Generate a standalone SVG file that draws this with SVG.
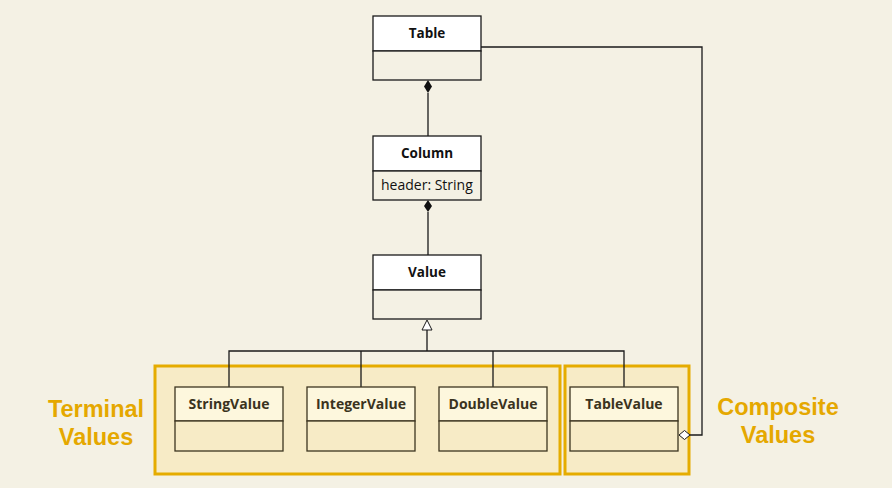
<svg xmlns="http://www.w3.org/2000/svg" width="892" height="488" viewBox="0 0 892 488">
<defs>
<style>
.cls{fill:#ffffff;stroke:#1a1a1a;stroke-width:1.3}
.sec{fill:#f4f1e4;stroke:#1a1a1a;stroke-width:1.3}
.sub{fill:#fdf7dd;stroke:#3d3520;stroke-width:1.3}
.subb{fill:#f7ebc6;stroke:#3d3520;stroke-width:1.3}
.grp{fill:#f7ebc6;stroke:#e5ac00;stroke-width:3}
.name{font-family:"Open Sans","DejaVu Sans",sans-serif;font-weight:bold;font-size:13.5px;fill:#111;text-anchor:middle}
.sname{font-family:"Open Sans","DejaVu Sans",sans-serif;font-weight:bold;font-size:14px;fill:#3a3320;text-anchor:middle}
.attr{font-family:"Open Sans","DejaVu Sans",sans-serif;font-size:14px;fill:#111}
.lbl{font-family:"Liberation Sans",Arial,sans-serif;font-weight:bold;font-size:23.5px;fill:#e5a800;text-anchor:middle}
.ln{fill:none;stroke:#1a1a1a;stroke-width:1.3}
.fd{fill:#111}
.hd{fill:#fff;stroke:#1a1a1a;stroke-width:1}
</style>
</defs>
<rect width="892" height="488" fill="#f4f1e4"/>
<rect class="grp" x="155" y="366" width="405" height="108"/>
<rect class="grp" x="565" y="366" width="124" height="108"/>
<g id="connectors">
<path class="ln" d="M428,136 L428,93"/>
<path class="fd" d="M428,80 L432,86.5 L428,93 L424,86.5 Z"/>
<path class="ln" d="M428,255 L428,212"/>
<path class="fd" d="M428,200 L432,206 L428,212 L424,206 Z"/>
<path class="ln" d="M427,330 L427,351 M229,387 L229,351 L624,351 L624,387 M361,351 L361,387 M493,351 L493,387"/>
<path class="hd" d="M427,320 L432,330 L422,330 Z"/>
<path class="ln" d="M481,47 L702,47 L702,435 L690,435"/>
<path class="hd" d="M679,435 L684.5,430.5 L690,435 L684.5,439.5 Z"/>
</g>
<g id="Table">
<rect class="cls" x="373" y="16" width="108" height="35"/>
<rect class="sec" x="373" y="51" width="108" height="29"/>
<text class="name" x="427" y="38">Table</text>
</g>
<g id="Column">
<rect class="cls" x="373" y="136" width="108" height="35"/>
<rect class="sec" x="373" y="171" width="108" height="29"/>
<text class="name" x="427" y="158">Column</text>
<text class="attr" x="381" y="190">header: String</text>
</g>
<g id="Value">
<rect class="cls" x="373" y="255" width="108" height="35"/>
<rect class="sec" x="373" y="290" width="108" height="29"/>
<text class="name" x="427" y="277">Value</text>
</g>
<g id="StringValue">
<rect class="sub" x="175" y="387" width="108" height="34"/>
<rect class="subb" x="175" y="421" width="108" height="30"/>
<text class="sname" x="229" y="409">StringValue</text>
</g>
<g id="IntegerValue">
<rect class="sub" x="307" y="387" width="108" height="34"/>
<rect class="subb" x="307" y="421" width="108" height="30"/>
<text class="sname" x="361" y="409">IntegerValue</text>
</g>
<g id="DoubleValue">
<rect class="sub" x="439" y="387" width="108" height="34"/>
<rect class="subb" x="439" y="421" width="108" height="30"/>
<text class="sname" x="493" y="409">DoubleValue</text>
</g>
<g id="TableValue">
<rect class="sub" x="570" y="387" width="108" height="34"/>
<rect class="subb" x="570" y="421" width="108" height="30"/>
<text class="sname" x="624" y="409">TableValue</text>
</g>
<g id="labels">
<text class="lbl" x="96" y="417">Terminal</text>
<text class="lbl" x="96" y="445">Values</text>
<text class="lbl" x="778" y="415">Composite</text>
<text class="lbl" x="778" y="443">Values</text>
</g>
</svg>
